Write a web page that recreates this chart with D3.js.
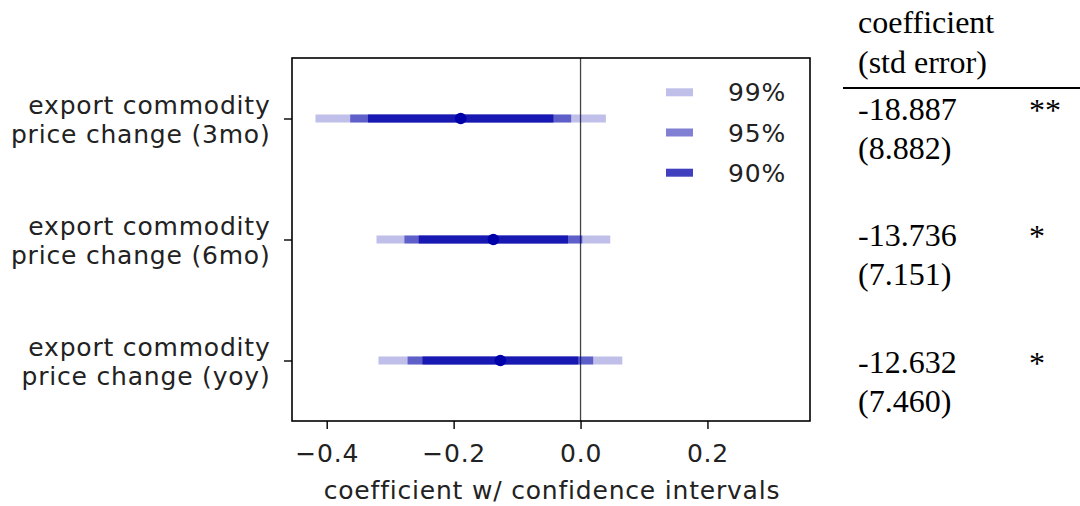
<!DOCTYPE html>
<html>
<head>
<meta charset="utf-8">
<script src="https://cdn.jsdelivr.net/npm/d3@7/dist/d3.min.js"></script>
<style>
  html, body { margin: 0; padding: 0; background: #fff; }
  svg { display: block; }
  .sans { font-family: "DejaVu Sans", sans-serif; font-size: 25px; letter-spacing: 0.8px; fill: #222; }
  .serif { font-family: "Liberation Serif", "Times New Roman", serif; font-size: 32px; fill: #000; }
</style>
</head>
<body>
<svg id="chart" width="1080" height="506"></svg>
<script>
// Regression terms shown as rows
const labelLines = [
  ["export commodity", "price change (3mo)"],
  ["export commodity", "price change (6mo)"],
  ["export commodity", "price change (yoy)"]
];
// Point estimates and standard errors (as reported in the table, in percent units)
const coefficients = [-18.887, -13.736, -12.632];
const stdErrors = [8.882, 7.151, 7.460];
const stars = ["**", "*", "*"];

// Confidence interval bounds on the axis scale
const ci99Low = [-0.41767, -0.32157, -0.31849];
const ci99High = [0.03993, 0.04685, 0.06585];
const ci95Low = [-0.36296, -0.27752, -0.27254];
const ci95High = [-0.01478, 0.00280, 0.01990];
const ci90Low = [-0.33498, -0.25499, -0.24904];
const ci90High = [-0.04276, -0.01973, -0.00360];

const levelNames = ["99%", "95%", "90%"];
const levelAlpha = [0.25, 0.5, 0.75];
const xTicks = [-0.4, -0.2, 0.0, 0.2];
const xLabel = "coefficient w/ confidence intervals";
const tableHeader = ["coefficient", "(std error)"];

const baseColor = "#0000aa";
const svg = d3.select("#chart");

const plot = { left: 292, right: 810, top: 58, bottom: 421 };

const x = d3.scaleLinear().domain([-0.4547, 0.3616]).range([plot.left, plot.right]);
const y = d3.scaleLinear().domain([-0.5, 2.5]).range([plot.top, plot.bottom]);

const intervals = [
  { low: ci99Low, high: ci99High, alpha: levelAlpha[0] },
  { low: ci95Low, high: ci95High, alpha: levelAlpha[1] },
  { low: ci90Low, high: ci90High, alpha: levelAlpha[2] }
];

// zero reference line
svg.append("line")
  .attr("x1", x(0)).attr("x2", x(0))
  .attr("y1", plot.top).attr("y2", plot.bottom)
  .attr("stroke", "#444").attr("stroke-width", 1.3);

// interval bars, widest first so narrower ones layer on top
const bars = svg.append("g");
intervals.forEach(iv => {
  bars.selectAll(null)
    .data(coefficients.map((c, i) => i))
    .join("line")
    .attr("x1", i => x(iv.low[i]))
    .attr("x2", i => x(iv.high[i]))
    .attr("y1", i => y(i)).attr("y2", i => y(i))
    .attr("stroke", baseColor)
    .attr("stroke-opacity", iv.alpha)
    .attr("stroke-width", 8);
});

// point estimates
svg.append("g").selectAll("circle")
  .data(coefficients)
  .join("circle")
  .attr("cx", d => x(d / 100))
  .attr("cy", (d, i) => y(i))
  .attr("r", 5.8)
  .attr("fill", baseColor);

// frame
svg.append("rect")
  .attr("x", plot.left).attr("y", plot.top)
  .attr("width", plot.right - plot.left).attr("height", plot.bottom - plot.top)
  .attr("fill", "none").attr("stroke", "#000").attr("stroke-width", 1.6);

// x axis
const xAxis = d3.axisBottom(x)
  .tickValues(xTicks)
  .tickSize(8)
  .tickPadding(10)
  .tickFormat(d => d3.format(".1f")(d).replace("-", "\u2212"));
const gx = svg.append("g").attr("transform", `translate(0,${plot.bottom})`).call(xAxis);
gx.select(".domain").remove();
gx.selectAll(".tick line").attr("stroke", "#000").attr("stroke-width", 1.4);
gx.selectAll(".tick text")
  .attr("class", "sans")
  .attr("fill", "#222")
  .attr("font-family", null).attr("font-size", null)
  .attr("dy", null).attr("y", 40.7);

svg.append("text")
  .attr("class", "sans")
  .attr("x", (plot.left + plot.right) / 2 + 1)
  .attr("y", 499)
  .attr("text-anchor", "middle")
  .text(xLabel);

// y axis ticks and two-line labels
const yAxis = d3.axisLeft(y).tickValues([0, 1, 2]).tickSize(8).tickFormat("");
const gy = svg.append("g").attr("transform", `translate(${plot.left},0)`).call(yAxis);
gy.select(".domain").remove();
gy.selectAll(".tick line").attr("stroke", "#000").attr("stroke-width", 1.4);

const ylab = svg.append("g").selectAll("text")
  .data(labelLines)
  .join("text")
  .attr("class", "sans")
  .attr("text-anchor", "end");
ylab.each(function (lines, i) {
  const t = d3.select(this);
  lines.forEach((ln, k) => {
    t.append("tspan")
      .attr("x", 270.5)
      .attr("y", y(i) + (k === 0 ? -5 : 24.5))
      .text(ln);
  });
});

// legend
const legend = svg.append("g");
levelNames.forEach((name, k) => {
  const ly = 92.3 + k * 40.2;
  legend.append("line")
    .attr("x1", 666).attr("x2", 693)
    .attr("y1", ly).attr("y2", ly)
    .attr("stroke", baseColor)
    .attr("stroke-opacity", levelAlpha[k])
    .attr("stroke-width", 8);
  legend.append("text")
    .attr("class", "sans")
    .attr("x", 728)
    .attr("y", ly + 9)
    .text(name);
});

// coefficient table
const table = svg.append("g");
tableHeader.forEach((h, k) => {
  table.append("text").attr("class", "serif")
    .attr("x", 858).attr("y", 33 + k * 40)
    .text(h);
});
table.append("line")
  .attr("x1", 843).attr("x2", 1080)
  .attr("y1", 88).attr("y2", 88)
  .attr("stroke", "#000").attr("stroke-width", 2);

coefficients.forEach((c, i) => {
  const base = 119.5 + i * 126.9;
  table.append("text").attr("class", "serif")
    .attr("x", 858).attr("y", base)
    .text(c.toFixed(3));
  table.append("text").attr("class", "serif")
    .attr("x", 858).attr("y", base + 39)
    .text("(" + stdErrors[i].toFixed(3) + ")");
  table.append("text").attr("class", "serif")
    .attr("x", 1029).attr("y", base + 1)
    .text(stars[i]);
});
</script>
</body>
</html>
